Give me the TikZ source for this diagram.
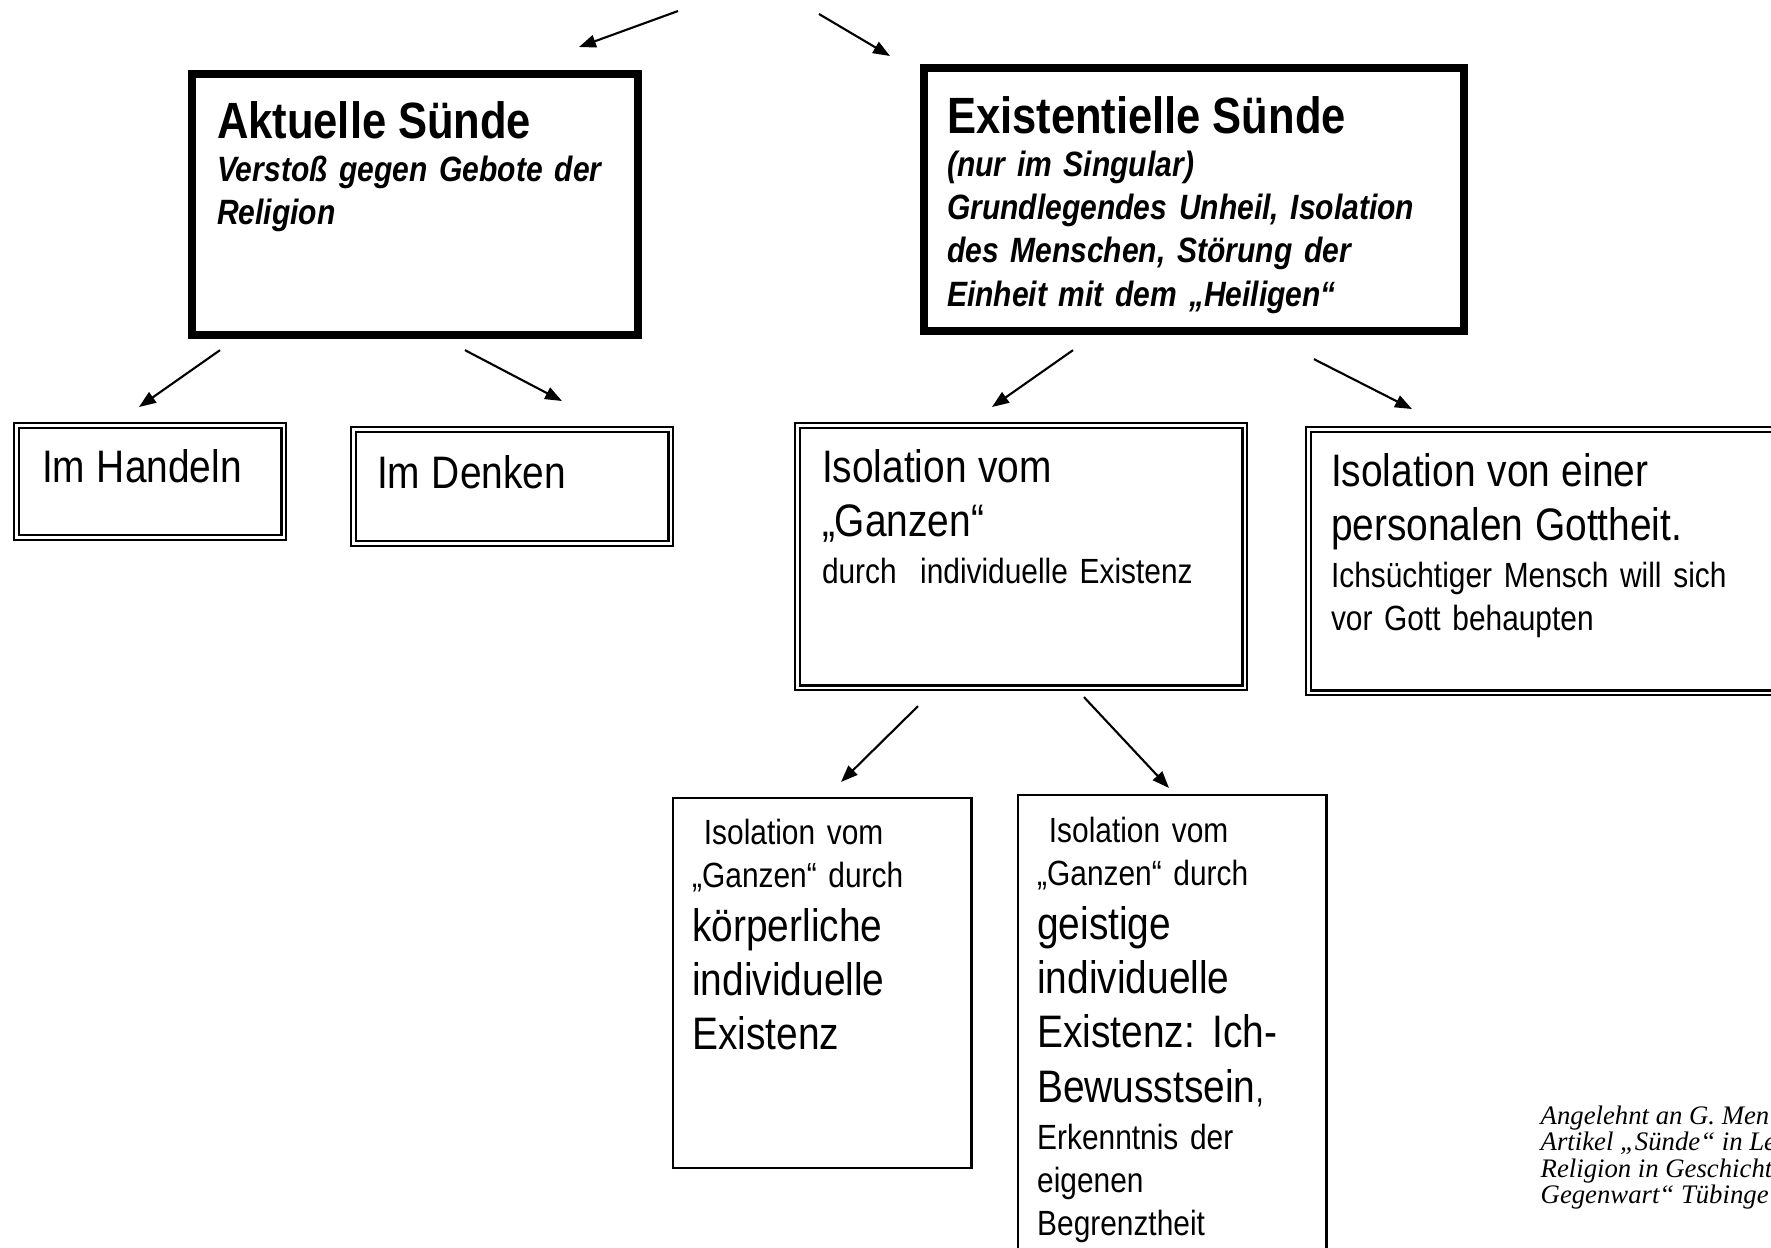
\documentclass[tikz,border=0pt]{standalone}
\usepackage{fontspec}
\setmainfont{Liberation Sans}[FakeStretch=0.854]
\newfontfamily\citefont{Liberation Serif}
\usetikzlibrary{arrows.meta}
\setlength{\parindent}{0pt}
\setlength{\parskip}{0pt}

\newcommand{\fHead}{\fontsize{14.5}{16}\selectfont\bfseries}
\newcommand{\fSub}{\fontsize{10.0}{12.3}\selectfont\bfseries\itshape}
\newcommand{\fBig}{\fontsize{12.95}{15.4}\selectfont}
\newcommand{\fSmall}{\fontsize{9.95}{12.3}\selectfont}

\begin{document}
\begin{tikzpicture}[x=0.01cm,y=-0.01cm,>={Triangle[length=4.8pt,width=3.6pt]},
	heavybox/.style={draw,line width=2.28pt,anchor=north west,inner ysep=0pt,outer sep=0pt,align=left},
	dblbox/.style={draw,line width=0.68pt,double,double distance=0.65pt,anchor=north west,inner ysep=0pt,outer sep=0pt,align=left},
	thinbox/.style={draw,line width=0.65pt,anchor=north west,inner ysep=0pt,outer sep=0pt,align=left},
	conn/.style={->,line width=0.6pt}]
	
	\useasboundingbox (0,0) rectangle (1771,1247);
	\clip (0,0) rectangle (1771,1247);
	
	% obere Ebene
	\node[heavybox,text width=3.96cm,inner xsep=0.25cm,text height=0.64cm,text depth=1.97cm] (akt) at (192,74)
		{\fHead Aktuelle Sünde\par
		 \fSub Verstoß gegen Gebote der\\ Religion\par};
	\node[heavybox,text width=4.94cm,inner xsep=0.23cm,text height=0.65cm,text depth=1.98cm] (exi) at (924,68)
		{\fHead Existentielle Sünde\par
		 \fSub (nur im Singular)\\ Grundlegendes Unheil, Isolation\\ des Menschen, Störung der\\ Einheit mit dem „Heiligen“\par};
	
	% zweite Ebene
	\node[dblbox,text width=2.16cm,inner xsep=0.255cm,text height=0.565cm,text depth=0.555cm] (handeln) at (16.5,425.5)
		{\fBig Im Handeln\par};
	\node[dblbox,text width=2.70cm,inner xsep=0.235cm,text height=0.585cm,text depth=0.555cm] (denken) at (353.5,429.5)
		{\fBig Im Denken\par};
	\node[dblbox,text width=3.98cm,inner xsep=0.245cm,text height=0.565cm,text depth=2.055cm] (ganzen) at (797.5,425.5)
		{\fBig Isolation vom\\ „Ganzen“\par\vspace{1.1pt}
		 \fSmall durch~ individuelle Existenz\par};
	\node[dblbox,text width=4.43cm,inner xsep=0.225cm,text height=0.565cm,text depth=2.065cm] (gott) at (1308.5,429.5)
		{\fBig Isolation von einer\\ personalen Gottheit.\par\vspace{1.1pt}
		 \fSmall Ichsüchtiger Mensch will sich\\ vor Gott behaupten\par};
	
	% dritte Ebene
	\node[thinbox,text width=2.60cm,inner xsep=0.19cm,text height=0.46cm,text depth=3.236cm] (koerper) at (673.2,798.2)
		{\fSmall\ Isolation vom\\ „Ganzen“ durch\par
		 \fBig körperliche\\ individuelle\\ Existenz\par};
	\node[thinbox,text width=2.70cm,inner xsep=0.19cm,text height=0.47cm,text depth=4.36cm] (geist) at (1018.2,795.2)
		{\fSmall\ Isolation vom\\ „Ganzen“ durch\par
		 \fBig geistige\\ individuelle\\ Existenz: Ich-\\ Bewusstsein{\fSmall ,}\par\vspace{1.1pt}
		 \fSmall Erkenntnis der\\ eigenen\\ Begrenztheit\par};
	
	\node[anchor=north west,inner sep=0pt,align=left,font=\citefont\itshape\fontsize{7.6}{7.5}\selectfont] (quelle) at (1540,1105)
		{Angelehnt an G. Men\\ Artikel „Sünde“ in Le\\ Religion in Geschicht\\ Gegenwart“ Tübinge};
	
	% Pfeile
	\coordinate (srcL) at (678,11);
	\coordinate (srcR) at (819,14);
	\draw[conn] (srcL) -- ([shift={(387,-27)}]akt.north west);
	\draw[conn] (srcR) -- ([shift={(-34,-12)}]exi.north west);
	
	\draw[conn] ([shift={(28,15)}]akt.south west) -- ([shift={(122.5,-18.5)}]handeln.north west);
	\draw[conn] ([shift={(273,15)}]akt.south west) -- ([shift={(208.5,-28.5)}]denken.north west);
	\draw[conn] ([shift={(149,19)}]exi.south west) -- ([shift={(194.5,-18.5)}]ganzen.north west);
	\draw[conn] ([shift={(390,28)}]exi.south west) -- ([shift={(103.5,-20.5)}]gott.north west);
	
	\draw[conn] ([shift={(120.5,18.5)}]ganzen.south west) -- ([shift={(167.8,-16.2)}]koerper.north west);
	\draw[conn] ([shift={(286.5,9.5)}]ganzen.south west) -- ([shift={(150.8,-7.2)}]geist.north west);
	
\end{tikzpicture}
\end{document}
